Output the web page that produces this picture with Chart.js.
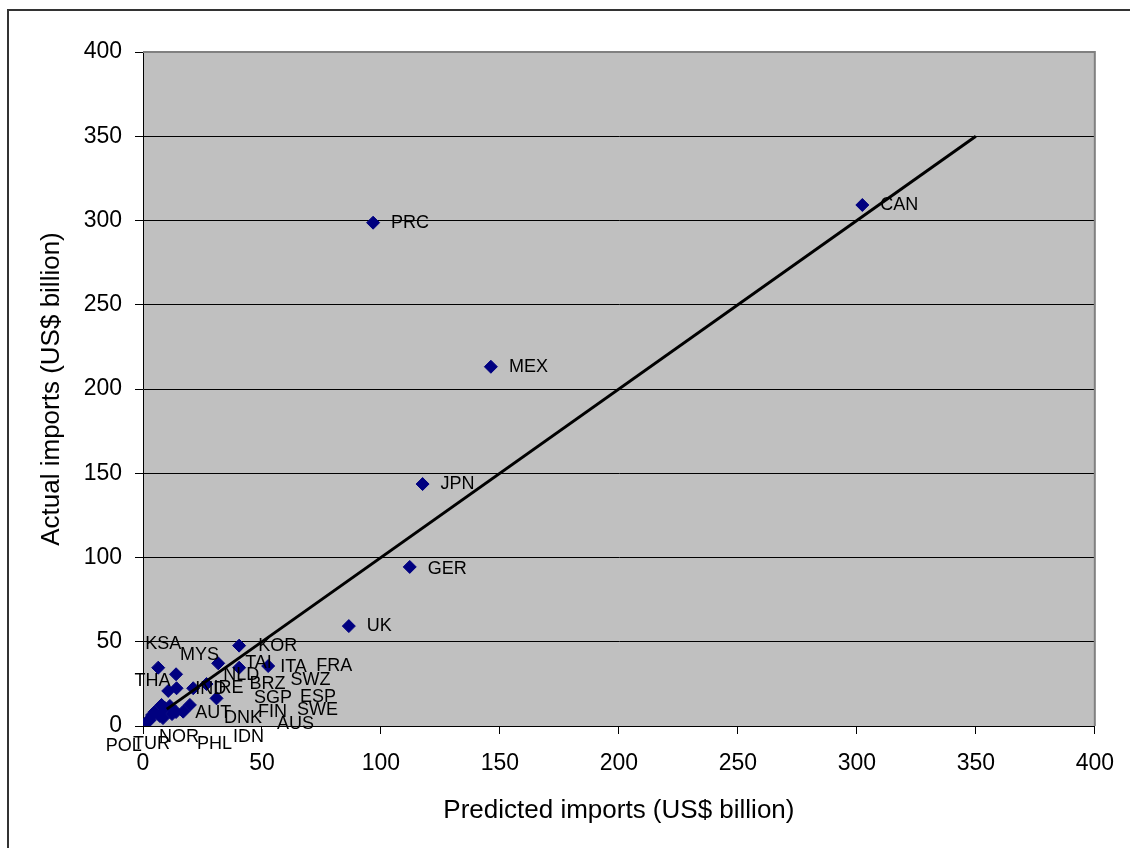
<!DOCTYPE html>
<html>
<head>
<meta charset="utf-8">
<script src="https://cdn.jsdelivr.net/npm/chart.js@4.4.0/dist/chart.umd.min.js"></script>
<style>
  html, body { margin: 0; padding: 0; background: #fff; overflow: hidden; }
  #wrap { position: relative; width: 1130px; height: 848px; }
  #frame { position: absolute; left: 7px; top: 9px; width: 1200px; height: 900px; border: 2px solid #333; }
  #chart { position: absolute; left: 0; top: 0; }
</style>
</head>
<body>
<div id="wrap"><div id="frame"></div><canvas id="chart" width="1130" height="848"></canvas></div>
<script>
// predicted vs actual imports, US$ billion
const countries = ['CAN', 'PRC', 'MEX', 'JPN', 'GER', 'UK',
    'KOR', 'KSA', 'MYS', 'TAI', 'ITA', 'FRA', 'THA', 'IRE', 'IND', 'NLD', 'BRZ', 'SGP',
    'SWZ', 'AUT', 'SWE', 'IDN', 'ESP', 'PHL', 'AUS', 'DNK', 'FIN', 'NOR', 'TUR', 'POL'];
const predicted = [302.3, 96.7, 146.2, 117.5, 112.1, 86.5,
    40.4, 6.4, 13.9, 31.6, 40.4, 52.6, 14.1, 26.7, 21.1, 10.6, 30.9, 19.7,
    7.8, 16.9, 9.2, 11.3, 13.9, 5.0, 12.2, 7.1, 8.4, 3.8, 2.9, 1.6];
const actual = [309.2, 298.7, 213.2, 143.6, 94.4, 59.3,
    47.7, 34.6, 30.7, 37.2, 34.6, 35.6, 22.4, 24.9, 22.4, 20.8, 16.4, 12.5,
    12.5, 8.5, 10.7, 11.9, 8.3, 8.5, 7.1, 5.9, 4.7, 6.5, 3.6, 2.4];

// label placement relative to its marker (px)
const labelDx = [18, 18, 18, 18, 18, 18,
    19, -13, 4, 27, 41, 48, -42, 7, 2, 55, 33, 64,
    129, 12, 132, 63, 124, 42, 105, 64, 95, 7, -17, -41];
const labelDy = [0, 0, 0, 0, 2, 0,
    0, -24, -19, 0, -1, 0, -7, 4, 1, -16, -14, -7,
    -25, 1, 2, 31, -15, 32, 10, 2, -6, 22, 24, 24];

// 45-degree reference line
const fitX = [10, 350];
const fitY = [10, 350];

const FONT = 'Arial, "Liberation Sans", sans-serif';
Chart.defaults.font.family = FONT;
Chart.defaults.color = '#000';

const plotBackground = {
    id: 'plotBackground',
    beforeDraw(chart) {
        const {ctx, chartArea: a} = chart;
        ctx.save();
        ctx.fillStyle = '#c0c0c0';
        ctx.fillRect(a.left, a.top, a.right - a.left, a.bottom - a.top);
        ctx.restore();
    },
    afterDatasetsDraw(chart) {
        const {ctx, chartArea: a} = chart;
        ctx.save();
        ctx.strokeStyle = '#808080';
        ctx.lineWidth = 2;
        ctx.beginPath();
        ctx.moveTo(a.left, a.top);
        ctx.lineTo(a.right, a.top);
        ctx.lineTo(a.right, a.bottom);
        ctx.stroke();
        ctx.restore();
    }
};

const countryLabels = {
    id: 'countryLabels',
    afterDatasetsDraw(chart) {
        const {ctx, scales: {x, y}} = chart;
        ctx.save();
        ctx.font = '18px ' + FONT;
        ctx.fillStyle = '#000';
        ctx.textAlign = 'left';
        ctx.textBaseline = 'middle';
        countries.forEach((c, i) => {
            ctx.fillText(c, x.getPixelForValue(predicted[i]) + labelDx[i],
                            y.getPixelForValue(actual[i]) + labelDy[i]);
        });
        ctx.restore();
    }
};

new Chart(document.getElementById('chart').getContext('2d'), {
    type: 'scatter',
    data: {
        datasets: [
            {
                data: fitX.map((v, i) => ({x: v, y: fitY[i]})),
                showLine: true,
                borderColor: '#000',
                borderWidth: 3,
                pointRadius: 0,
                order: 0,
            },
            {
                data: predicted.map((v, i) => ({x: v, y: actual[i]})),
                pointStyle: 'rectRot',
                pointRadius: 6.5,
                backgroundColor: '#000080',
                borderColor: '#000080',
                borderWidth: 1,
                order: 1,
            },
        ]
    },
    options: {
        responsive: false,
        animation: false,
        layout: { padding: { top: 52, right: 34, left: 0, bottom: 0 } },
        plugins: { legend: { display: false }, tooltip: { enabled: false } },
        scales: {
            x: {
                type: 'linear', min: 0, max: 400,
                ticks: { stepSize: 50, font: { size: 23 }, padding: 16 },
                grid: { drawOnChartArea: false, tickLength: 8, tickColor: '#000' },
                border: { color: '#000', width: 1 },
                title: { display: true, text: 'Predicted imports (US$ billion)',
                         font: { size: 26 }, padding: { top: 0, bottom: 22 } },
                afterFit: s => { s.height = 122; }
            },
            y: {
                type: 'linear', min: 0, max: 400,
                ticks: { stepSize: 50, font: { size: 23 }, padding: 13 },
                grid: { color: '#000', lineWidth: 1, tickLength: 8, tickColor: '#000' },
                border: { color: '#000', width: 1 },
                title: { display: true, text: 'Actual imports (US$ billion)',
                         font: { size: 26 }, padding: { top: 36, bottom: 0 } },
                afterFit: s => { s.width = 143; }
            }
        }
    },
    plugins: [plotBackground, countryLabels]
});
</script>
</body>
</html>
